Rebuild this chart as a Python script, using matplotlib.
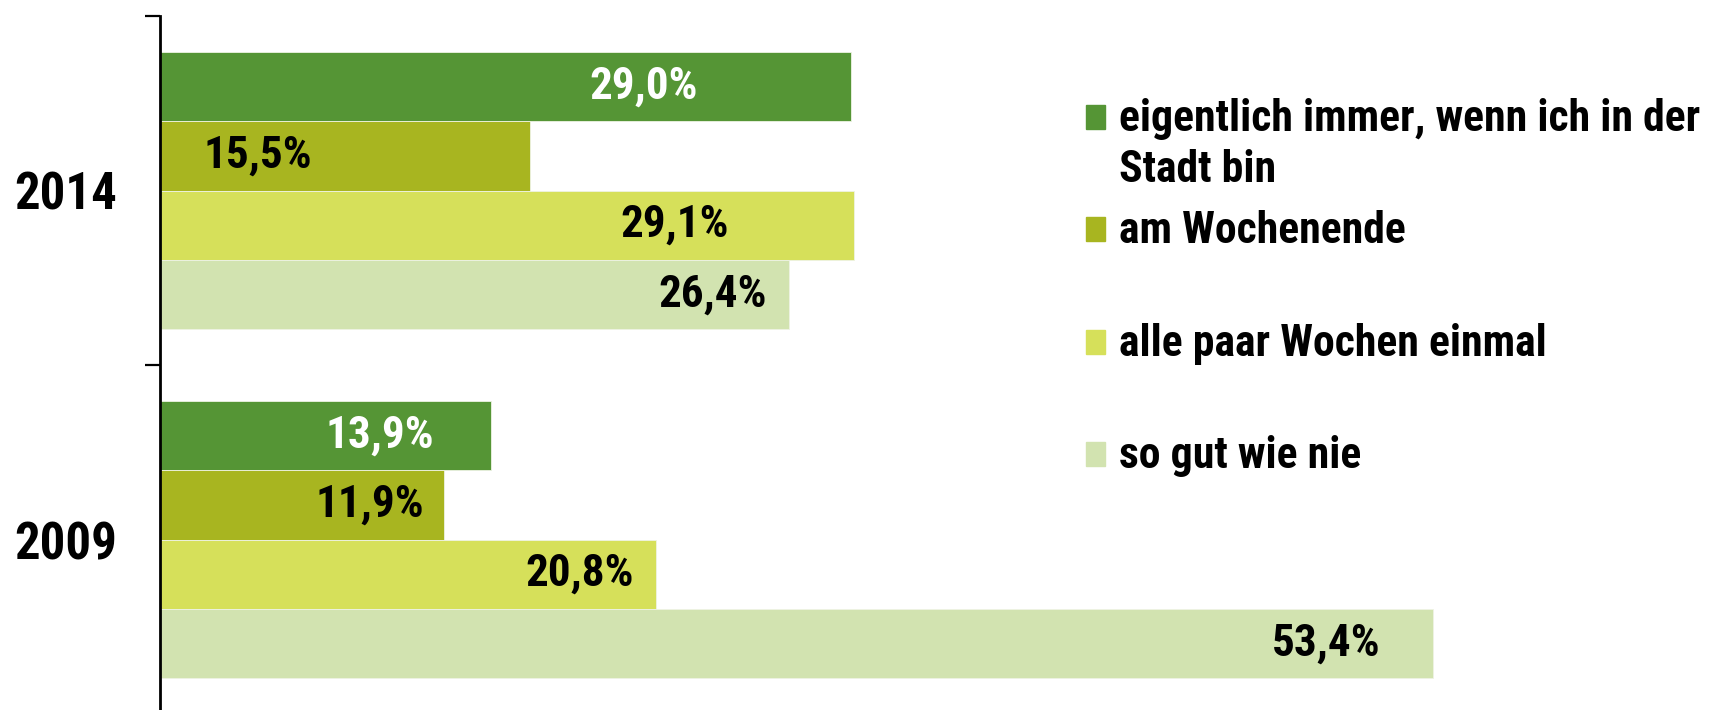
import matplotlib.pyplot as plt
from matplotlib.patches import Rectangle
import numpy as np

plt.rcParams['font.family'] = ['Roboto Condensed', 'Open Sans Condensed', 'Noto Sans', 'DejaVu Sans']
plt.rcParams['font.stretch'] = 'condensed'
plt.rcParams['font.weight'] = 'bold'

# data
years = ['2014', '2009']
series = ['eigentlich immer, wenn ich in der\nStadt bin', 'am Wochenende',
          'alle paar Wochen einmal', 'so gut wie nie']
values_2014 = [29.0, 15.5, 29.1, 26.4]
values_2009 = [13.9, 11.9, 20.8, 53.4]
labels_2014 = ['29,0%', '15,5%', '29,1%', '26,4%']
labels_2009 = ['13,9%', '11,9%', '20,8%', '53,4%']
# where the value labels sit along the bar (x data units)
labelx_2014 = [20.3, 4.1, 21.6, 23.2]
labelx_2009 = [9.2, 8.8, 17.6, 48.9]

colors = ['#559535', '#A8B520', '#D6E05A', '#D2E3B0']
text_colors = ['white', 'black', 'black', 'black']

W, H = 1720, 710
fig = plt.figure(figsize=(W / 100, H / 100), dpi=100)
ax = fig.add_axes([160 / W, 1 - 16 / H - 698 / H, 1 - 160 / W, 698 / H])

bar_h = 0.198
vals = [values_2014, values_2009]
labs = [labels_2014, labels_2009]
labx = [labelx_2014, labelx_2009]
for g in range(len(years)):
    for i in range(len(series)):
        y = g + (i - 1.5) * bar_h
        ax.barh(y, vals[g][i], height=bar_h, color=colors[i],
                edgecolor='#eef3e4', linewidth=0.6, zorder=2)
        ax.text(labx[g][i], y, labs[g][i], ha='center', va='center',
                fontsize=32.5, fontweight='bold', color=text_colors[i], zorder=3)

ax.set_xlim(0, (W - 160) / 23.84)
ax.set_ylim(1.5, -0.5)

for s in ['top', 'right', 'bottom']:
    ax.spines[s].set_visible(False)
ax.spines['left'].set_linewidth(2)
ax.spines['left'].set_zorder(4)
ax.set_xticks([])
ax.set_yticks([-0.5, 0.5, 1.5])
ax.set_yticklabels([])
ax.set_yticks([0, 1], minor=True)
ax.set_yticklabels(years, minor=True, fontsize=36.5, fontweight='bold')
ax.tick_params(axis='y', which='major', length=11, width=1.6, direction='out')
ax.tick_params(axis='y', which='minor', length=0, pad=31)

# legend
baselines = [131, 243, 356, 468]
for i, name in enumerate(series):
    b = baselines[i]
    fig.patches.append(Rectangle((1086 / W, 1 - (b - 2) / H), 19 / W, 24 / H,
                                 transform=fig.transFigure, color=colors[i]))
    for j, line in enumerate(name.split('\n')):
        fig.text(1119 / W, 1 - (b + j * 51) / H, line, fontsize=31.5,
                 fontweight='bold', ha='left', va='baseline')

fig.savefig('out.png', dpi=100)
